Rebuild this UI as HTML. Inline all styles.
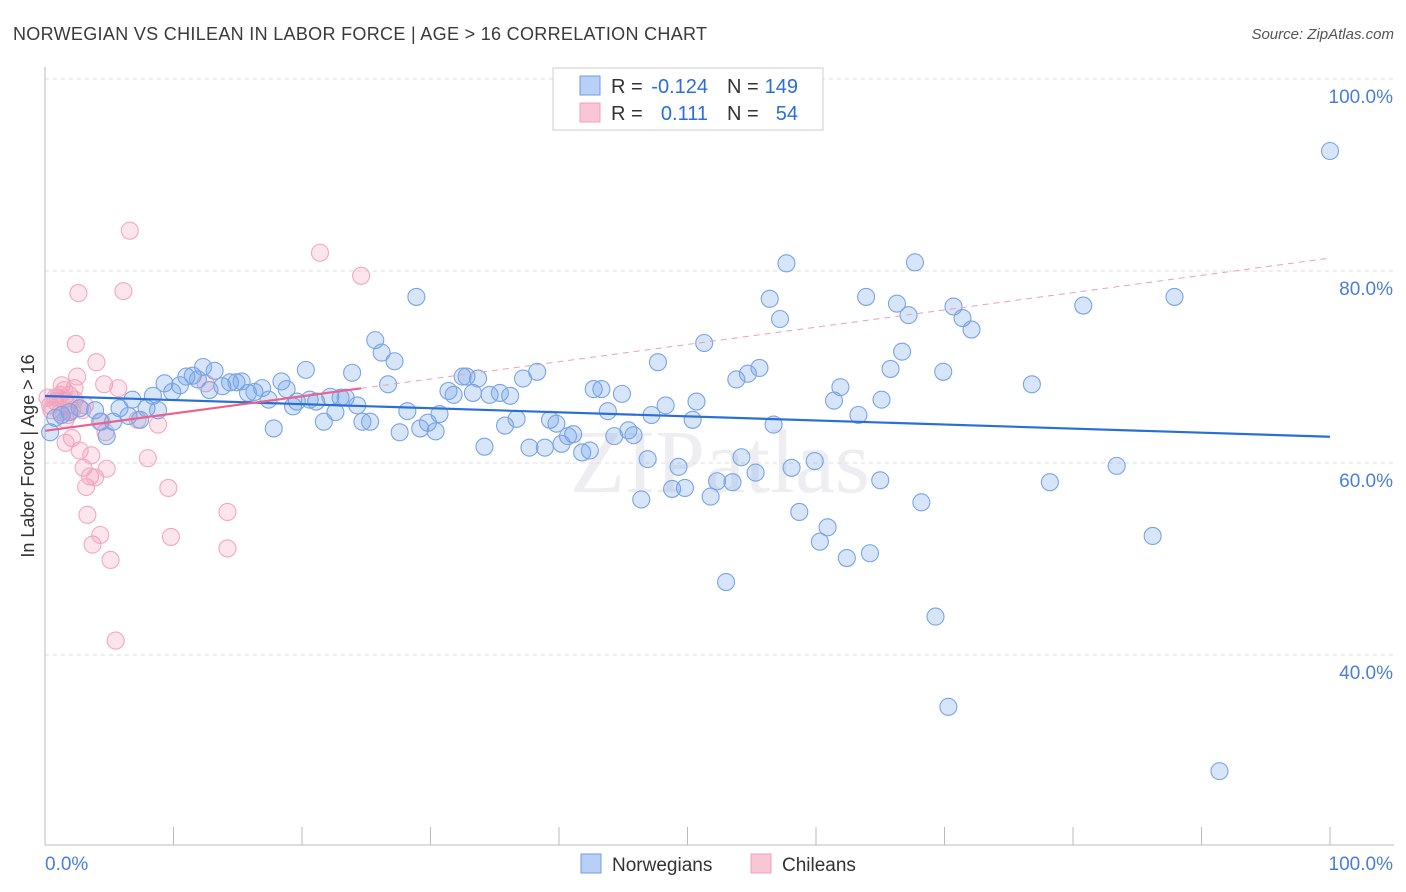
<!DOCTYPE html>
<html><head><meta charset="utf-8"><style>
body{margin:0;background:#fff;font-family:"Liberation Sans",sans-serif;}
#wrap{position:relative;width:1406px;height:892px;overflow:hidden;}
</style></head><body>
<div id="wrap">
<svg id="chart" width="1406" height="892"></svg>
</div>
<script>
const blueX=[100,0.4,0.8,1.3,1.9,2.7,3.9,4.3,4.8,5.3,5.8,6.5,6.8,7.4,7.9,8.4,8.8,9.3,9.9,10.5,11.0,11.5,11.9,12.3,12.8,13.2,13.8,14.4,14.9,15.3,15.8,16.3,16.9,17.4,17.8,18.4,18.8,19.3,19.6,20.3,20.6,21.1,21.7,22.2,22.6,23.0,23.4,23.9,24.3,24.7,25.3,25.7,26.2,26.7,27.2,27.6,28.2,28.9,29.2,29.8,30.4,30.7,31.4,31.8,32.5,32.8,33.3,33.7,34.2,34.6,35.4,35.8,36.2,36.7,37.2,37.7,38.3,38.9,39.3,39.8,40.2,40.7,41.1,41.8,42.4,42.7,43.3,43.8,44.3,44.9,45.4,45.8,46.4,46.9,47.2,47.7,48.3,48.8,49.3,49.8,50.4,50.7,51.3,51.8,52.3,53.0,53.5,53.8,54.2,54.7,55.3,55.6,56.4,56.7,57.2,57.7,58.1,58.7,59.9,60.3,60.9,61.4,61.9,62.4,63.3,63.9,64.2,65.0,65.1,65.8,66.3,66.7,67.2,67.7,68.2,69.3,69.9,70.3,70.7,71.4,72.1,76.8,78.2,80.8,83.4,86.2,87.9,91.4];
const blueY=[92.5,63.2,64.7,65.0,65.3,65.7,65.5,64.3,62.8,64.3,65.7,64.9,66.6,64.5,65.7,67.0,65.5,68.3,67.4,68.1,69.0,69.1,68.7,70.0,67.6,69.6,68.0,68.4,68.4,68.5,67.3,67.4,67.8,66.6,63.6,68.5,67.7,65.9,66.4,69.7,66.6,66.4,64.3,66.9,65.3,66.8,66.8,69.4,66.0,64.3,64.3,72.8,71.5,68.2,70.6,63.2,65.4,77.3,63.6,64.2,63.3,65.1,67.5,67.1,69.0,69.0,67.3,68.8,61.7,67.1,67.3,63.9,67.0,64.6,68.8,61.6,69.5,61.6,64.5,64.1,62.0,62.8,63.0,61.1,61.3,67.7,67.7,65.4,62.8,67.2,63.4,62.9,56.2,60.4,65.0,70.5,66.0,57.3,59.6,57.4,64.5,66.4,72.5,56.5,58.1,47.6,58.0,68.7,60.6,69.3,59.0,69.9,77.1,64.0,75.0,80.8,59.5,54.9,60.2,51.8,53.3,66.5,67.9,50.1,65.0,77.3,50.6,58.2,66.6,69.8,76.6,71.6,75.4,80.9,55.9,44.0,69.5,34.6,76.3,75.1,73.9,68.2,58.0,76.4,59.7,52.4,77.3,27.9];
const pinkX=[0.2,0.4,0.5,0.8,1.0,1.2,1.3,1.6,1.6,1.8,1.9,2.1,2.3,2.4,2.5,2.6,2.7,2.9,3.0,3.2,3.3,3.5,3.6,3.7,3.9,4.0,4.3,4.4,4.6,4.7,4.8,5.1,5.5,5.7,6.1,6.6,7.2,8.0,8.8,9.6,9.8,12.5,14.2,14.2,21.4,24.6,0.8,1.2,1.5,1.8,2.3,3.1,2.1,1.5];
const pinkY=[66.8,66.0,65.5,66.4,66.8,65.3,68.1,64.5,62.1,66.0,67.1,62.6,67.8,72.4,69.0,77.7,61.3,65.5,59.5,57.5,54.6,58.6,60.8,51.5,58.5,70.5,52.5,64.3,68.2,63.2,59.4,49.9,41.5,67.8,77.9,84.2,64.5,60.5,64.0,57.4,52.3,68.3,54.9,51.1,81.9,79.5,66.8,67.1,66.6,65.0,66.6,66.0,65.5,67.6];
const yTicks=[40,60,80,100];
const yTickLabels=["40.0%","60.0%","80.0%","100.0%"];

const NS="http://www.w3.org/2000/svg";
const svg=document.getElementById('chart');
const X0=45,X1=1330,YTOP=79,PXPER=9.6;
const sx=v=>X0+(X1-X0)*v/100;
const sy=v=>YTOP+(100-v)*PXPER;
function mk(tag,attrs,parent){const e=document.createElementNS(NS,tag);for(const k in attrs)e.setAttribute(k,attrs[k]);(parent||svg).appendChild(e);return e;}

let t=mk('text',{x:13,y:40,'font-size':18,fill:'#3a3a3a',textLength:694,lengthAdjust:'spacing'});t.textContent='NORWEGIAN VS CHILEAN IN LABOR FORCE | AGE > 16 CORRELATION CHART';


t=mk('text',{x:1394,y:39,'font-size':15,fill:'#555','text-anchor':'end','font-style':'italic'});t.textContent='Source: ZipAtlas.com';



t=mk('text',{x:720,y:492,'font-size':90,fill:'#eeeef2','text-anchor':'middle','font-family':'Liberation Serif'});t.textContent='ZIPatlas';



mk('line',{x1:X0,x2:1394,y1:YTOP,y2:YTOP,stroke:'#ddd','stroke-dasharray':'4,4'});
yTicks.forEach((v,i)=>{
  if(v<100){const g=mk('line',{x1:X0,x2:1394,y1:sy(v),y2:sy(v),stroke:'#ddd','stroke-dasharray':'4,4'});
  
  }
  const l=mk('text',{x:1393,y:sy(v)+24,'font-size':19,fill:'#4a7fd8','text-anchor':'end'});l.textContent=yTickLabels[i];
  
  
});
mk('line',{x1:X0,x2:X0,y1:67,y2:845,stroke:'#bbb'});
mk('line',{x1:X0,x2:1394,y1:845,y2:845,stroke:'#bbb'});
for(let i=1;i<=10;i++){mk('line',{x1:sx(i*10),x2:sx(i*10),y1:827,y2:845,stroke:'#bbb'});}
t=mk('text',{x:45,y:870,'font-size':19,fill:'#4a7fd8'});t.textContent='0.0%';


t=mk('text',{x:1393,y:870,'font-size':19,fill:'#4a7fd8','text-anchor':'end'});t.textContent='100.0%';


t=mk('text',{x:34,y:456,'font-size':18,fill:'#333','text-anchor':'middle',transform:'rotate(-90 34 456)'});t.textContent='In Labor Force | Age > 16';



function pts(xs,ys,fill,stroke,name){
  xs.forEach((x,i)=>{const c=mk('circle',{cx:sx(x),cy:sy(ys[i]),r:8.5,fill:fill,stroke:stroke,'stroke-width':1.1});
  
  });
}
pts(pinkX,pinkY,'rgba(244,150,180,0.25)','#f2a8c2','chilean-point');
pts(blueX,blueY,'rgba(110,160,235,0.28)','#7aa4e4','norwegian-point');

function reg(xs,ys){const n=xs.length;let mx=0,my=0;xs.forEach((x,i)=>{mx+=x;my+=ys[i];});mx/=n;my/=n;let sxy=0,sxx=0;xs.forEach((x,i)=>{sxy+=(x-mx)*(ys[i]-my);sxx+=(x-mx)**2;});const b=sxy/sxx;return [my-b*mx,b];}
const [ba,bb]=reg(blueX,blueY);
let L=mk('line',{x1:sx(0),y1:sy(ba),x2:sx(100),y2:sy(ba+bb*100),stroke:'#2a6fd6','stroke-width':2.2});


const [pa,pb]=reg(pinkX,pinkY);const pmax=Math.max(...pinkX);
L=mk('line',{x1:sx(0),y1:sy(pa),x2:sx(pmax),y2:sy(pa+pb*pmax),stroke:'#e8638f','stroke-width':2.2});


L=mk('line',{x1:sx(pmax),y1:sy(pa+pb*pmax),x2:sx(100),y2:sy(pa+pb*100),stroke:'#e8a0b8','stroke-width':1,'stroke-dasharray':'6,5'});



const lg=mk('g',{});


mk('rect',{x:553,y:68,width:270,height:62,fill:'#fff',stroke:'#ccc'},lg);
mk('rect',{x:580,y:76,width:20,height:19,fill:'#b8d0f5',stroke:'#6f9be0'},lg);
mk('rect',{x:580,y:103,width:20,height:19,fill:'#f9c6d6',stroke:'#f0a0bc'},lg);
function lt(x,y,s,c,anchor){const e=mk('text',{x:x,y:y,'font-size':20,fill:c,'text-anchor':anchor||'start'},lg);e.textContent=s;return e;}
lt(611,93,'R =','#333');lt(708,93,'-0.124','#2a6fd6','end');lt(727,93,'N =','#333');lt(798,93,'149','#2a6fd6','end');
lt(611,120,'R =','#333');lt(708,120,'0.111','#2a6fd6','end');lt(727,120,'N =','#333');lt(798,120,'54','#2a6fd6','end');

const bl=mk('g',{});


mk('rect',{x:581,y:854,width:20,height:19,fill:'#b8d0f5',stroke:'#6f9be0'},bl);
let e=mk('text',{x:612,y:871,'font-size':19,fill:'#333'},bl);e.textContent='Norwegians';


mk('rect',{x:751,y:854,width:20,height:19,fill:'#f9c6d6',stroke:'#f0a0bc'},bl);
e=mk('text',{x:782,y:871,'font-size':19,fill:'#333'},bl);e.textContent='Chileans';


</script>
</body></html>
